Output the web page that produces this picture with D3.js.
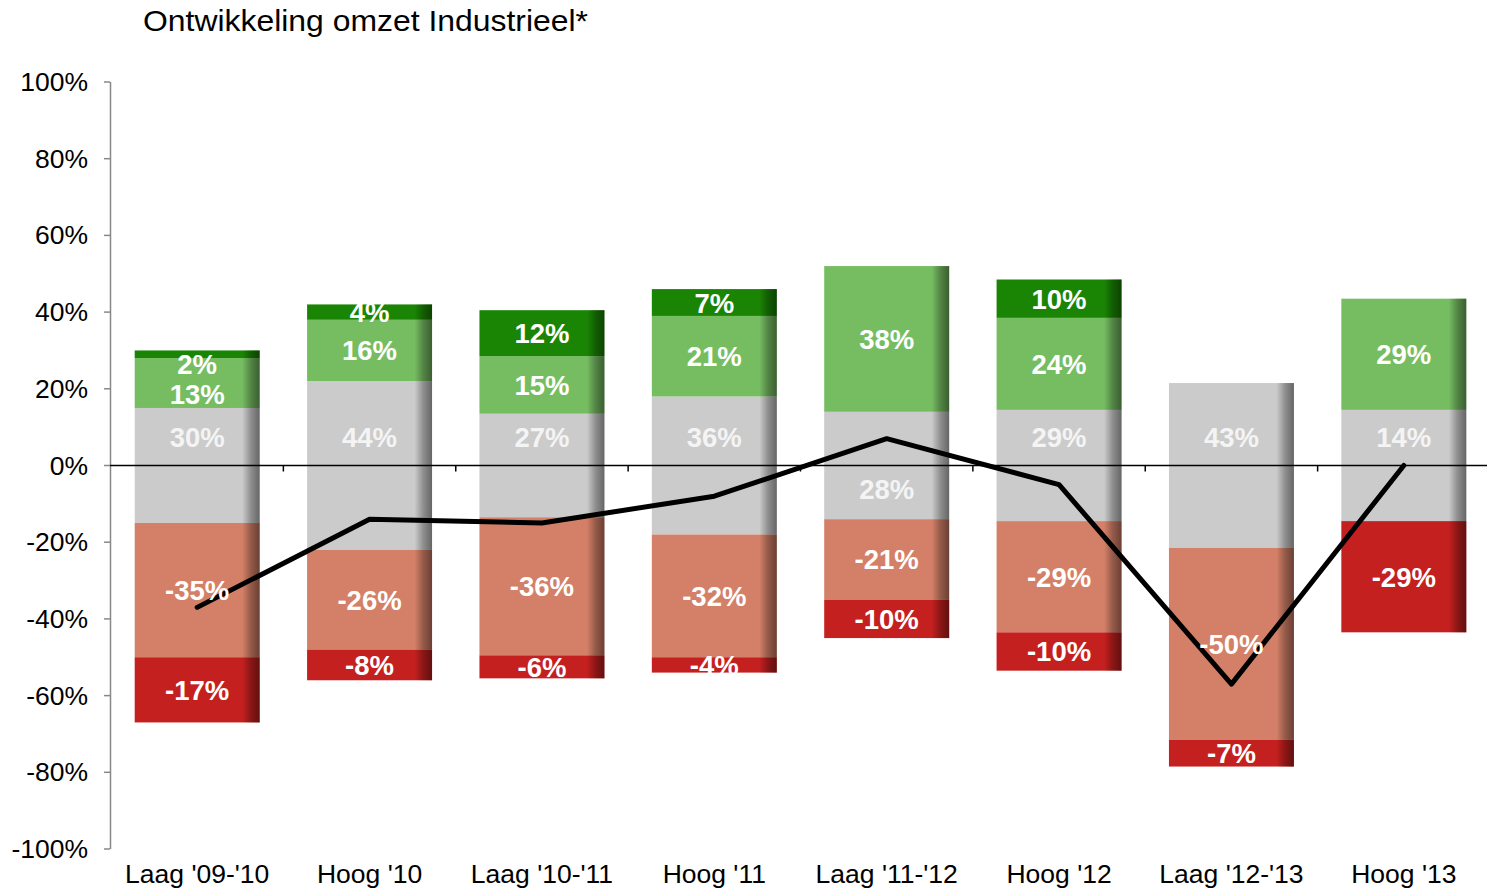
<!DOCTYPE html>
<html>
<head>
<meta charset="utf-8">
<script src="https://cdn.jsdelivr.net/npm/d3@7"></script>
<style>
  body { margin: 0; background: #fff; }
  svg { display: block; font-family: "Liberation Sans", Arial, sans-serif; }
</style>
</head>
<body>
<svg id="chart" width="1487" height="890"></svg>
<script>
// data
var categories = ["Laag '09-'10", "Hoog '10", "Laag '10-'11", "Hoog '11", "Laag '11-'12", "Hoog '12", "Laag '12-'13", "Hoog '13"]
var darkGreen  = [2, 4, 12, 7, 0, 10, 0, 0]
var lightGreen = [13, 16, 15, 21, 38, 24, 0, 29]
var neutral    = [30, 44, 27, 36, 28, 29, 43, 29]
var neutralLabels = ["30%", "44%", "27%", "36%", "28%", "29%", "43%", "14%"]
var neutralLabelSide = ["up", "up", "up", "up", "down", "up", "up", "up"]
var salmon     = [-35, -26, -36, -32, -21, -29, -50, 0]
var red        = [-17, -8, -6, -4, -10, -10, -7, -29]
var net        = [-37, -14, -15, -8, 7, -5, -57, 0]
var yTicks = [100, 80, 60, 40, 20, 0, -20, -40, -60, -80, -100]

var colors = {
  darkGreen: "#1a8504",
  lightGreen: "#76bd62",
  neutral: "#cbcbcb",
  salmon: "#d48068",
  red: "#c4201f"
}

var svg = d3.select("#chart")

var x = d3.scaleBand()
  .domain(categories)
  .range([111, 1490])
  .paddingInner(0.275)
  .paddingOuter(0.1375)

var y = d3.scaleLinear()
  .domain([-100, 100])
  .range([849, 82])

// shading on the right edge of each bar
var defs = svg.append("defs")
var grad = defs.append("linearGradient").attr("id", "shade")
  .attr("x1", 0).attr("x2", 1).attr("y1", 0).attr("y2", 0)
grad.append("stop").attr("offset", "0").attr("stop-color", "#000").attr("stop-opacity", 0)
grad.append("stop").attr("offset", "0.86").attr("stop-color", "#000").attr("stop-opacity", 0)
grad.append("stop").attr("offset", "0.93").attr("stop-color", "#000").attr("stop-opacity", 0.3)
grad.append("stop").attr("offset", "1").attr("stop-color", "#000").attr("stop-opacity", 0.5)

// title
svg.append("text")
  .attr("x", 143).attr("y", 31)
  .attr("font-size", 29)
  .attr("textLength", 445)
  .attr("lengthAdjust", "spacingAndGlyphs")
  .attr("fill", "#000")
  .text("Ontwikkeling omzet Industrieel*")

// build segments
var segments = []
categories.forEach(function(c, i) {
  var half = neutral[i] / 2
  segments.push({cat: c, y0: 0, y1: half, color: colors.neutral,
    label: neutralLabelSide[i] == "up" ? neutralLabels[i] : null, grey: true, ly: 7.5})
  segments.push({cat: c, y0: -half, y1: 0, color: colors.neutral,
    label: neutralLabelSide[i] == "down" ? neutralLabels[i] : null, grey: true, ly: -6})
  var top = half
  var ups = []
  if (lightGreen[i] > 0) {
    ups.push({cat: c, y0: top, y1: top + lightGreen[i], color: colors.lightGreen, label: lightGreen[i] + "%"})
    top += lightGreen[i]
  }
  if (darkGreen[i] > 0) {
    ups.push({cat: c, y0: top, y1: top + darkGreen[i], color: colors.darkGreen, label: darkGreen[i] + "%"})
    top += darkGreen[i]
  }
  // keep labels of very thin top segments inside the bar, push the rest down
  var prev = null
  ups.slice().reverse().forEach(function(s) {
    var cy = (y(s.y0) + y(s.y1)) / 2
    if (prev === null && y(s.y0) - y(s.y1) < 10) cy = Math.max(cy, y(top) + 14)
    if (prev !== null && cy - prev < 30) cy = prev + 30
    s.cy = cy
    prev = cy
  })
  segments = segments.concat(ups)
  var bottom = -half
  if (salmon[i] < 0) {
    segments.push({cat: c, y0: bottom + salmon[i], y1: bottom, color: colors.salmon, label: salmon[i] + "%"})
    bottom += salmon[i]
  }
  if (red[i] < 0) {
    segments.push({cat: c, y0: bottom + red[i], y1: bottom, color: colors.red, label: red[i] + "%"})
    bottom += red[i]
  }
})

var bars = svg.append("g")
bars.selectAll("rect.seg")
  .data(segments)
  .enter().append("rect")
  .attr("class", "seg")
  .attr("x", function(d) { return x(d.cat) })
  .attr("width", x.bandwidth())
  .attr("y", function(d) { return y(d.y1) })
  .attr("height", function(d) { return y(d.y0) - y(d.y1) })
  .attr("fill", function(d) { return d.color })

bars.selectAll("rect.shade")
  .data(segments)
  .enter().append("rect")
  .attr("class", "shade")
  .attr("x", function(d) { return x(d.cat) })
  .attr("width", x.bandwidth())
  .attr("y", function(d) { return y(d.y1) })
  .attr("height", function(d) { return y(d.y0) - y(d.y1) })
  .attr("fill", "url(#shade)")

// y axis
var yAxis = svg.append("g")
yAxis.append("line")
  .attr("x1", 110.5).attr("x2", 110.5)
  .attr("y1", y(100)).attr("y2", y(-100))
  .attr("stroke", "#888").attr("stroke-width", 1.5)
yAxis.selectAll("line.tick")
  .data(yTicks)
  .enter().append("line")
  .attr("class", "tick")
  .attr("x1", 104).attr("x2", 110)
  .attr("y1", function(d) { return y(d) }).attr("y2", function(d) { return y(d) })
  .attr("stroke", "#888").attr("stroke-width", 1.5)
yAxis.selectAll("text")
  .data(yTicks)
  .enter().append("text")
  .attr("x", 88)
  .attr("y", function(d) { return y(d) + 9 })
  .attr("text-anchor", "end")
  .attr("font-size", 26.5)
  .attr("fill", "#000")
  .text(function(d) { return d + "%" })

// zero line with ticks between categories
var zero = svg.append("g")
zero.append("line")
  .attr("x1", 110).attr("x2", 1487)
  .attr("y1", y(0)).attr("y2", y(0))
  .attr("stroke", "#000").attr("stroke-width", 1.5)
zero.selectAll("line.tick")
  .data(categories.slice(1))
  .enter().append("line")
  .attr("class", "tick")
  .attr("x1", function(d) { return x(d) - x.step() * x.paddingInner() / 2 })
  .attr("x2", function(d) { return x(d) - x.step() * x.paddingInner() / 2 })
  .attr("y1", y(0)).attr("y2", y(0) + 6)
  .attr("stroke", "#000").attr("stroke-width", 1.5)

// category labels
svg.append("g").selectAll("text")
  .data(categories)
  .enter().append("text")
  .attr("x", function(d) { return x(d) + x.bandwidth() / 2 })
  .attr("y", 883)
  .attr("text-anchor", "middle")
  .attr("font-size", 26.5)
  .attr("fill", "#000")
  .text(function(d) { return d })

// net line
var line = d3.line()
  .x(function(d, i) { return x(categories[i]) + x.bandwidth() / 2 })
  .y(function(d) { return y(d) })
svg.append("path")
  .datum(net)
  .attr("d", line)
  .attr("fill", "none")
  .attr("stroke", "#000")
  .attr("stroke-width", 5)
  .attr("stroke-linejoin", "round")
  .attr("stroke-linecap", "round")

// segment labels
svg.append("g").selectAll("text")
  .data(segments.filter(function(d) { return d.label }))
  .enter().append("text")
  .attr("x", function(d) { return x(d.cat) + x.bandwidth() / 2 })
  .attr("y", function(d) {
    if (d.ly !== undefined) return y(d.ly) + 10
    if (d.cy !== undefined) return d.cy + 10
    return (y(d.y0) + y(d.y1)) / 2 + 10
  })
  .attr("text-anchor", "middle")
  .attr("font-size", 27.5)
  .attr("font-weight", "bold")
  .attr("fill", function(d) { return d.grey ? "#f4f4f4" : "#fff" })
  .text(function(d) { return d.label })
</script>
</body>
</html>
